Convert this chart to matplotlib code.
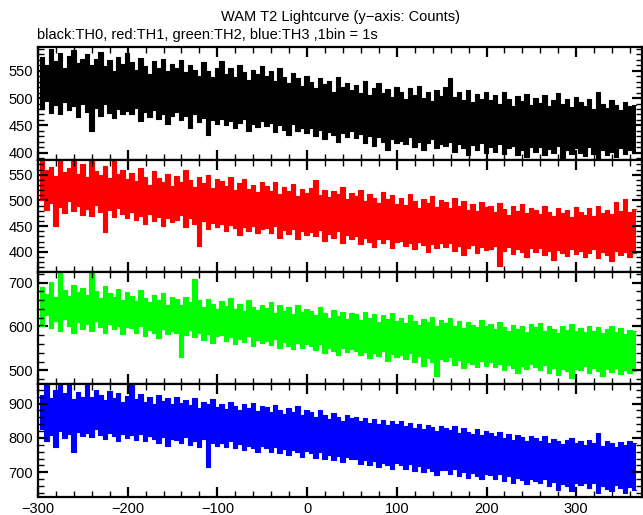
import numpy as np
import matplotlib
matplotlib.use("Agg")
import matplotlib.pyplot as plt
from matplotlib.ticker import MultipleLocator

plt.rcParams['font.family'] = ['Liberation Sans', 'DejaVu Sans']

# time bins, 5 s wide; each bin gives the highest and lowest count seen in it
t_start = -298
bin_width = 5

th0_hi = [575, 560, 590, 568, 582, 556, 578, 588, 565, 572,
          580, 560, 571, 585, 558, 569, 550, 576, 562, 583,
          566, 552, 574, 559, 545, 568, 556, 571, 549, 563,
          555, 570, 548, 560, 552, 541, 566, 549, 538, 555,
          568, 545, 556, 539, 560, 547, 533, 552, 544, 558,
          540, 549, 531, 555, 538, 528, 546, 536, 522, 541,
          530, 518, 537, 525, 532, 512, 538, 520, 527, 515,
          524, 510, 531, 505, 519, 527, 509, 516, 502, 521,
          512, 498, 518, 506, 523, 500, 511, 495, 515, 504,
          520, 536, 502, 511, 497, 514, 492, 508, 499, 512,
          496, 505, 490, 512, 499, 486, 503, 494, 508, 488,
          500, 491, 506, 485, 497, 510, 489, 498, 484, 502,
          493, 485, 498, 480, 512, 490, 482, 496, 487, 479, 492, 485, 488]
th0_lo = [480, 495, 472, 488, 470, 492, 478, 485, 466, 490,
          475, 440, 482, 468, 489, 472, 463, 480, 470, 476,
          470, 482, 458, 474, 465, 479, 461, 470, 452, 468,
          475, 459, 468, 445, 470, 456, 464, 432, 460, 452,
          462, 450, 458, 446, 455, 461, 440, 452, 447, 458,
          448, 455, 438, 450, 442, 432, 452, 440, 445, 436,
          445, 430, 441, 425, 438, 432, 420, 436, 428, 440,
          426, 435, 418, 430, 412, 428, 420, 405, 425, 418,
          422, 415, 428, 410, 420, 405, 418, 425, 408, 415,
          412, 420, 402, 416, 408, 395, 414, 405, 418, 400,
          410, 402, 415, 398, 408, 412, 395, 405, 392, 410,
          402, 410, 396, 406, 400, 412, 390, 404, 398, 408,
          400, 394, 410, 398, 388, 405, 396, 402, 392, 408, 398, 404, 400]

th1_hi = [579, 560, 565, 548, 579, 556, 562, 579, 552, 570,
          545, 579, 558, 550, 566, 544, 579, 552, 560, 541,
          554, 538, 562, 546, 530, 557, 543, 536, 551, 528,
          548, 535, 559, 540, 527, 545, 533, 550, 525, 542,
          537, 528, 545, 520, 534, 541, 522, 530, 516, 536,
          528, 519, 535, 512, 526, 518, 531, 509, 522, 514,
          525, 540, 510, 521, 506, 518, 512, 527, 503, 515,
          508, 520, 498, 513, 505, 495, 516, 502, 510, 494,
          505, 491, 512, 498, 486, 503, 495, 508, 488, 500,
          496, 485, 504, 490, 498, 482, 494, 480, 497, 488,
          490, 478, 495, 484, 472, 489, 480, 493, 476, 485,
          482, 474, 490, 478, 470, 486, 476, 482, 468, 487,
          478, 472, 485, 470, 490, 476, 482, 474, 496, 480, 503, 478, 484]
th1_lo = [500, 482, 495, 451, 488, 476, 498, 480, 490, 472,
          484, 470, 492, 478, 439, 482, 468, 486, 474, 466,
          478, 462, 470, 455, 474, 460, 468, 450, 465, 458,
          462, 472, 448, 466, 455, 412, 460, 445, 456, 448,
          455, 440, 452, 446, 432, 448, 441, 450, 436, 444,
          446, 437, 450, 428, 442, 435, 445, 426, 440, 432,
          438, 430, 442, 421, 435, 428, 440, 418, 432, 425,
          430, 416, 428, 420, 410, 426, 418, 425, 408, 420,
          422, 412, 418, 405, 420, 414, 400, 416, 408, 418,
          410, 418, 402, 412, 395, 408, 414, 398, 410, 404,
          405, 412, 372, 402, 410, 396, 406, 400, 390, 408,
          400, 408, 394, 402, 385, 404, 398, 392, 406, 396,
          402, 390, 398, 405, 388, 400, 395, 382, 402, 394, 399, 390, 398]

th2_hi = [690, 675, 702, 668, 724, 684, 670, 695, 678, 688,
          672, 724, 680, 664, 692, 676, 668, 685, 660, 679,
          670, 658, 682, 664, 655, 672, 660, 676, 650, 668,
          662, 650, 668, 655, 708, 660, 645, 663, 652, 640,
          658, 647, 665, 640, 652, 636, 660, 645, 638, 650,
          642, 655, 630, 648, 636, 644, 628, 650, 634, 640,
          635, 626, 645, 630, 620, 638, 624, 632, 618, 630,
          628, 615, 634, 620, 628, 610, 625, 616, 630, 612,
          620, 608, 625, 612, 604, 618, 610, 622, 600, 615,
          608, 620, 600, 612, 596, 610, 604, 598, 614, 602,
          606, 595, 610, 598, 590, 604, 594, 600, 588, 605,
          598, 609, 590, 602, 594, 586, 600, 592, 605, 590,
          596, 588, 602, 590, 598, 584, 594, 600, 588, 596, 582, 592, 590]
th2_lo = [602, 625, 596, 612, 590, 618, 600, 585, 610, 595,
          605, 590, 612, 598, 584, 606, 594, 600, 582, 598,
          596, 584, 600, 578, 592, 586, 574, 594, 582, 590,
          586, 530, 580, 592, 576, 586, 570, 582, 563, 578,
          580, 566, 575, 560, 572, 565, 578, 556, 570, 562,
          568, 558, 572, 552, 565, 556, 548, 562, 550, 560,
          555, 546, 560, 540, 552, 545, 535, 550, 542, 548,
          545, 536, 542, 528, 540, 532, 545, 522, 538, 530,
          535, 526, 540, 520, 532, 510, 528, 520, 486, 525,
          522, 530, 512, 524, 505, 520, 515, 508, 522, 510,
          518, 508, 515, 500, 512, 506, 495, 510, 503, 514,
          508, 500, 512, 495, 506, 490, 504, 498, 482, 502,
          500, 510, 494, 505, 498, 488, 502, 496, 506, 492, 500, 494, 498]

th3_hi = [925, 956, 915, 940, 956, 930, 956, 912, 935, 920,
          956, 918, 940, 925, 910, 938, 915, 930, 905, 922,
          956, 912, 928, 905, 920, 900, 925, 908, 915, 898,
          918, 902, 910, 895, 915, 888, 905, 898, 912, 890,
          900, 885, 905, 892, 880, 898, 886, 902, 878, 894,
          890, 876, 895, 882, 870, 888, 875, 892, 866, 880,
          875, 862, 880, 868, 855, 872, 860, 850, 866, 858,
          862, 848, 858, 845, 855, 840, 852, 838, 850, 842,
          848, 835, 845, 830, 842, 825, 838, 832, 820, 836,
          830, 822, 835, 815, 828, 818, 812, 825, 808, 820,
          815, 805, 818, 800, 812, 795, 808, 802, 790, 806,
          800, 792, 805, 785, 798, 790, 782, 795, 800, 786,
          792, 780, 795, 786, 814, 778, 790, 784, 775, 788, 780, 792, 785]
th3_lo = [825, 790, 810, 775, 820, 800, 812, 759, 818, 805,
          815, 802, 825, 808, 796, 815, 805, 790, 812, 800,
          808, 795, 812, 790, 805, 798, 785, 802, 776, 798,
          795, 785, 802, 780, 792, 775, 796, 716, 785, 778,
          786, 775, 790, 770, 782, 765, 778, 772, 760, 776,
          772, 760, 775, 755, 768, 750, 765, 758, 745, 762,
          755, 742, 760, 738, 750, 735, 748, 730, 745, 738,
          740, 725, 735, 722, 732, 715, 728, 720, 710, 726,
          722, 710, 725, 705, 718, 700, 712, 705, 692, 708,
          706, 695, 710, 690, 702, 684, 698, 690, 680, 695,
          692, 682, 696, 675, 688, 670, 684, 678, 665, 680,
          676, 668, 680, 660, 672, 650, 666, 660, 645, 670,
          662, 670, 655, 668, 640, 660, 652, 646, 662, 655, 640, 658, 650]

panels = [
    (th0_hi, th0_lo, 'black', (387, 593), 50, 10),
    (th1_hi, th1_lo, 'red', (361, 579), 50, 10),
    (th2_hi, th2_lo, '#00ff00', (468, 724), 100, 20),
    (th3_hi, th3_lo, 'blue', (629, 956), 100, 20),
]

fig = plt.figure(figsize=(6.43, 5.15), dpi=100)
left, right, top, bottom = 0.059, 0.998, 0.908, 0.0355
h = (top - bottom) / 4

for i, (hi, lo, color, ylim, major, minor) in enumerate(panels):
    ax = fig.add_axes([left, top - (i + 1) * h, right - left, h])
    edges = t_start + bin_width * np.arange(len(hi) + 1)
    hi_e = np.append(hi, hi[-1])
    lo_e = np.append(lo, lo[-1])
    # each bin drawn as a bar from its low to its high count
    ax.fill_between(edges, lo_e, hi_e, step='post', color=color, lw=0)
    ax.step(edges, hi_e, where='post', color=color, lw=0.8)
    ax.step(edges, lo_e, where='post', color=color, lw=0.8)
    ax.set_xlim(-300, 373)
    ax.set_ylim(*ylim)
    ax.xaxis.set_major_locator(MultipleLocator(100))
    ax.xaxis.set_minor_locator(MultipleLocator(20))
    ax.yaxis.set_major_locator(MultipleLocator(major))
    ax.yaxis.set_minor_locator(MultipleLocator(minor))
    ax.tick_params(which='both', direction='in', top=True, right=True,
                   labelsize=10.5, colors='black')
    ax.tick_params(which='major', length=7, width=1.6)
    ax.tick_params(which='minor', length=4, width=1.0)
    for s in ax.spines.values():
        s.set_linewidth(1.6)
    if i < 3:
        ax.tick_params(labelbottom=False)

fig.text(0.529, 0.967, 'WAM T2 Lightcurve (y\u2212axis: Counts)', ha='center',
         va='center', fontsize=10.5)
fig.text(0.057, 0.932, 'black:TH0, red:TH1, green:TH2, blue:TH3 ,1bin = 1s',
         ha='left', va='center', fontsize=10.5)

fig.savefig('out.png', dpi=100)
